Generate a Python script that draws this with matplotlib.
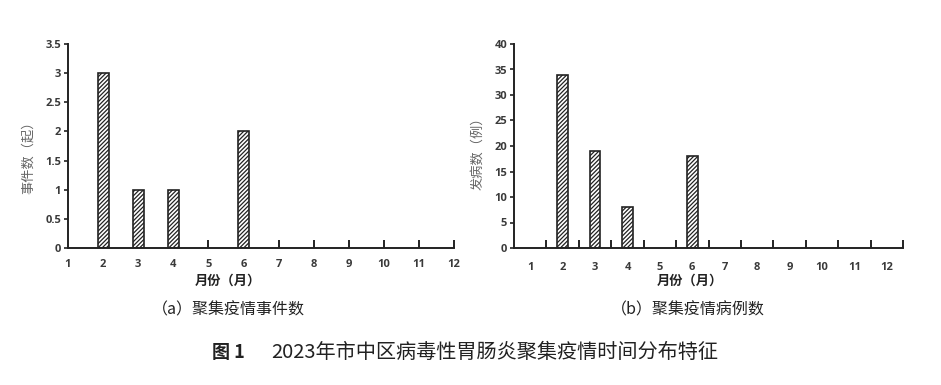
import matplotlib
matplotlib.use("Agg")
import matplotlib.pyplot as plt
import numpy as np

plt.rcParams['font.family'] = ['Noto Sans CJK SC', 'DejaVu Sans']
plt.rcParams['hatch.color'] = '#666666'
plt.rcParams['hatch.linewidth'] = 0.9

months = list(range(1, 13))
events = [0, 3, 1, 1, 0, 2, 0, 0, 0, 0, 0, 0]
cases = [0, 34, 19, 8, 0, 18, 0, 0, 0, 0, 0, 0]
month_labels = [str(m) for m in months]

fig = plt.figure(figsize=(9.41, 3.85), dpi=100)
axL = fig.add_axes([68/941, 1-248/385, (454-68)/941, (248-44)/385])
axR = fig.add_axes([514/941, 1-248/385, (903-514)/941, (248-44)/385])

def style(ax):
    for s in ['top', 'right']:
        ax.spines[s].set_visible(False)
    for s in ['left', 'bottom']:
        ax.spines[s].set_linewidth(1.4)
        ax.spines[s].set_color('#222222')
    for lab in ax.get_xticklabels() + ax.get_yticklabels():
        lab.set_fontfamily('Open Sans')
        lab.set_fontsize(8)
        lab.set_fontweight('bold')
        lab.set_color('#3a3a3a')

# Left chart
m = np.array(months)
ev = np.array(events)
mask = ev > 0
axL.bar(m[mask], ev[mask], width=0.31, facecolor='white', edgecolor='#222222',
        linewidth=1.2, hatch='////////', zorder=2)
axL.set_xlim(1, 12)
axL.set_ylim(0, 3.5)
axL.set_yticks(np.arange(0, 3.51, 0.5))
axL.set_yticklabels(['0', '0.5', '1', '1.5', '2', '2.5', '3', '3.5'])
axL.set_xticks(months)
axL.set_xticklabels(month_labels)
axL.tick_params(axis='x', direction='in', length=6, width=1.4, color='#222222', pad=8)
axL.tick_params(axis='y', direction='out', length=3, width=1.2, color='#222222', pad=2)
axL.xaxis.get_major_ticks()[0].tick1line.set_visible(False)
style(axL)
axL.set_xlabel('月份（月）', fontsize=9.5, fontweight='bold', color='#222222')
axL.xaxis.set_label_coords((228-68)/386, -0.125)
axL.set_ylabel('事件数（起）', fontsize=9.5, color='#666666')
axL.yaxis.set_label_coords((35-68)/386, 0.46)

# Right chart
cs = np.array(cases)
mask2 = cs > 0
axR.bar(m[mask2], cs[mask2], width=0.33, facecolor='white', edgecolor='#222222',
        linewidth=1.2, hatch='////////', zorder=2)
axR.set_xlim(0.5, 12.5)
axR.set_ylim(0, 40)
axR.set_yticks(np.arange(0, 41, 5))
axR.set_xticks(months)
axR.set_xticklabels(month_labels)
axR.set_xticks(np.arange(1.5, 12.6, 1), minor=True)
axR.tick_params(axis='x', which='major', length=0, pad=10)
axR.tick_params(axis='x', which='minor', direction='in', length=6, width=1.4, color='#222222')
axR.tick_params(axis='y', direction='out', length=3, width=1.2, color='#222222', pad=2)
style(axR)
axR.set_xlabel('月份（月）', fontsize=9.5, fontweight='bold', color='#222222')
axR.xaxis.set_label_coords((690-514)/389, -0.125)
axR.set_ylabel('发病数（例）', fontsize=9.5, color='#666666')
axR.yaxis.set_label_coords((484-514)/389, 0.48)

fig.text(228/941, 1-310/385, '（a）聚集疫情事件数', ha='center', va='center', fontsize=11.5, color='#222222')
fig.text(688/941, 1-310/385, '（b）聚集疫情病例数', ha='center', va='center', fontsize=11.5, color='#222222')
fig.text(228/941, 1-352/385, '图 1', ha='center', va='center',
         fontsize=13, fontweight='bold', color='#222222')
fig.text(495/941, 1-352/385, '2023年市中区病毒性胃肠炎聚集疫情时间分布特征', ha='center', va='center',
         fontsize=14.5, color='#222222')

fig.savefig('out.png', dpi=100)
